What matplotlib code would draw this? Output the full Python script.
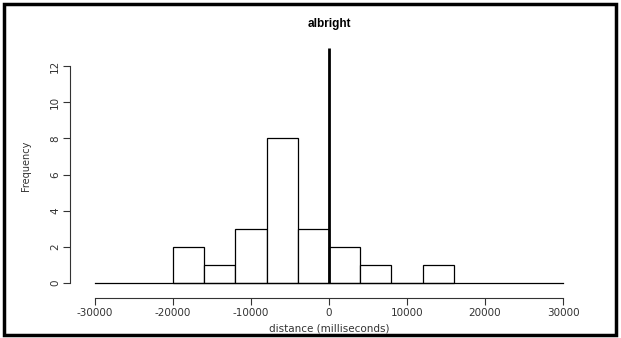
import matplotlib
matplotlib.use("Agg")
import matplotlib.pyplot as plt
from matplotlib.patches import Rectangle

plt.rcParams['font.family'] = ['DejaVu Sans']

# histogram data (bins of 4000 ms)
bin_left = [-20000, -16000, -12000, -8000, -4000, 0, 4000, 8000, 12000]
bin_width = 4000
counts = [2, 1, 3, 8, 3, 2, 1, 0, 1]
x_ticks = [-30000, -20000, -10000, 0, 10000, 20000, 30000]
y_ticks = [0, 2, 4, 6, 8, 10, 12]
marker_x = 0
marker_top = 13

W, H = 621, 338
fig = plt.figure(figsize=(W / 100, H / 100), dpi=100)

# axes placed so -30000..30000 and 0..13 map onto the reference pixels
ax = fig.add_axes([95 / W, (H - 283) / H, 468 / W, (283 - 48) / H])
ax.set_xlim(-30000, 30000)
ax.set_ylim(0, 13)

ax.bar(bin_left, counts, width=bin_width, align='edge',
       facecolor='white', edgecolor='black', linewidth=0.9, clip_on=False)
ax.plot([-30000, 30000], [0, 0], color='black', lw=0.9, clip_on=False)
ax.plot([marker_x, marker_x], [0, marker_top], color='black', lw=2,
        clip_on=False, solid_capstyle='butt')

for s in ['top', 'right']:
    ax.spines[s].set_visible(False)
ax.spines['left'].set_position(('outward', 18))
ax.spines['bottom'].set_position(('outward', 11))
ax.spines['left'].set_bounds(0, 12)
ax.spines['bottom'].set_bounds(-30000, 30000)
for s in ['left', 'bottom']:
    ax.spines[s].set_linewidth(0.8)
    ax.spines[s].set_color('#333333')

ax.set_xticks(x_ticks)
ax.set_xticklabels([str(v) for v in x_ticks])
ax.set_yticks(y_ticks)
ax.set_yticklabels([str(v) for v in y_ticks], rotation=90, va='center')
ax.tick_params(axis='both', length=5, width=0.8, color='#333333',
               labelsize=7.5, labelcolor='#333333', pad=2)

ax.set_xlabel('distance (milliseconds)', fontsize=7.5, color='#333333', labelpad=4)
ax.set_ylabel('Frequency', fontsize=7, color='#333333', labelpad=14)
ax.set_title('albright', fontsize=8.5, fontweight='bold', pad=15,
             family=['Liberation Sans', 'DejaVu Sans'])

# outer frame of the screenshot
fig.add_artist(Rectangle((4 / W, 3 / H), 612 / W, 331 / H,
                         transform=fig.transFigure, fill=False,
                         edgecolor='black', lw=2.5))

fig.savefig('out.png', dpi=100)
